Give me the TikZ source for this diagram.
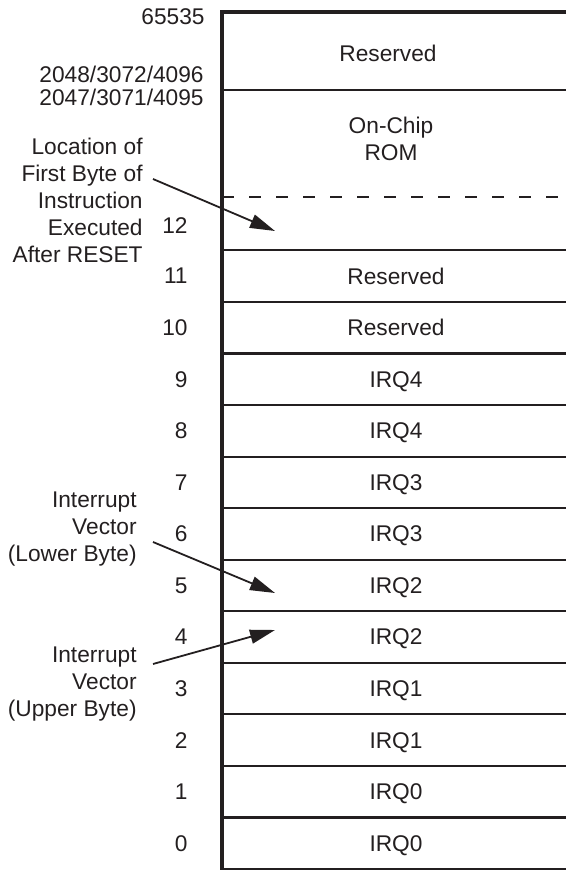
\documentclass[tikz,border=0pt]{standalone}
\usepackage{fontspec}
\setmainfont{Liberation Sans}
\usepackage{tikz}
\usetikzlibrary{arrows.meta}
\definecolor{inkgray}{HTML}{231F20}

\tikzset{
  frame/.style={line width=1.6pt,draw=inkgray},
  rowline/.style={line width=1.1pt,draw=inkgray},
  memtext/.style={inner sep=0pt,text=inkgray,font=\fontsize{11.35}{13.5}\selectfont},
  numtext/.style={memtext,anchor=east},
  note/.style={memtext,anchor=east,align=right},
  ptr/.style={line width=0.9pt,draw=inkgray,-{Triangle[length=12.5pt,width=7pt]}}
}

\begin{document}
\begin{tikzpicture}[x=0.5pt,y=-0.5pt]
\useasboundingbox (0,0) rectangle (566,870);

% draw outer frame
\draw[frame] (566,12) -- (222,12) -- (222,870);

% draw upper part of the map
\draw[rowline] (222,90) -- (566,90);
\draw[rowline,dash pattern=on 6pt off 7.5pt] (222,197) -- (566,197);
\node[memtext] (restop) at (388,53) {Reserved};
\node[memtext,align=center] (rom) at (391,139) {On-Chip\\ROM};
\node[numtext] (a65535) at (205,17) {65535};
\node[note,font=\fontsize{11.35}{11.5}\selectfont] (abound) at (204,86) {2048/3072/4096\\2047/3071/4095};
\node[numtext] (num12) at (188,226) {12};

% draw vector rows
\draw[rowline] (222,869) -- (566,869);
\foreach[count=\i from 0] \t in {IRQ0,IRQ0,IRQ1,IRQ1,IRQ2,IRQ2,IRQ3,IRQ3,IRQ4,IRQ4,Reserved,Reserved}
{
	\draw[rowline] (222,{869-51.55*(\i+1)}) -- (566,{869-51.55*(\i+1)});
	\node[memtext,text depth=0pt] (cell\i) at (396,{869-51.55*(\i+0.5)}) {\t};
	\node[numtext] (num\i) at (188,{869-51.55*(\i+0.5)}) {\i};
}

% notes and pointers
\node[note] (resetnote) at (143,200) {Location of\\First Byte of\\Instruction\\Executed\\After RESET};
\node[note] (lownote) at (137,529) {Interrupt\\Vector\\(Lower Byte)};
\node[note] (upnote) at (137,684) {Interrupt\\Vector\\(Upper Byte)};

\coordinate (resettail) at (153,179);
\coordinate (resethead) at (275,231);
\coordinate (lowtail) at (153,542);
\coordinate (lowhead) at (275,593);
\coordinate (uptail) at (153,664);
\coordinate (uphead) at (275,630);

\draw[ptr] (resettail) -- (resethead);
\draw[ptr] (lowtail) -- (lowhead);
\draw[ptr] (uptail) -- (uphead);

\end{tikzpicture}
\end{document}
